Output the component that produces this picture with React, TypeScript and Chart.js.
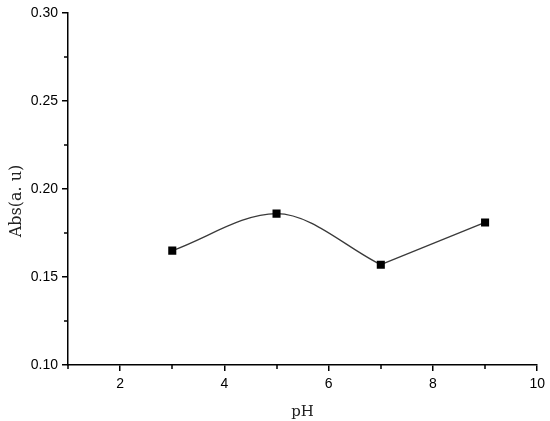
import React, { useEffect, useRef } from "react";
import { Chart, registerables } from "chart.js";

Chart.register(...registerables);

const phValues = [3, 5, 7, 9];
const absValues = [0.165, 0.186, 0.157, 0.181];
const xMajorTicks = [2, 4, 6, 8, 10];
const xMinorTicks = [1, 3, 5, 7, 9];
const yMajorTicks = [0.1, 0.15, 0.2, 0.25, 0.3];
const yMinorTicks = [0.125, 0.175, 0.225, 0.275];
const xTitle = "pH";
const yTitle = "Abs(a. u)";

const minorTickPlugin = {
  id: "minorTicks",
  afterDraw(chart: any) {
    const ctx = chart.ctx;
    const xs = chart.scales.x;
    const ys = chart.scales.y;
    const area = chart.chartArea;
    ctx.save();
    ctx.strokeStyle = "#000";
    ctx.lineWidth = 1.5;
    ctx.beginPath();
    xMinorTicks.forEach((v) => {
      const px = Math.round(xs.getPixelForValue(v));
      ctx.moveTo(px, area.bottom);
      ctx.lineTo(px, area.bottom + 4);
    });
    yMinorTicks.forEach((v) => {
      const py = Math.round(ys.getPixelForValue(v));
      ctx.moveTo(area.left, py);
      ctx.lineTo(area.left - 4, py);
    });
    ctx.stroke();
    // y-axis title
    ctx.translate(17, (area.top + area.bottom) / 2 + 12);
    ctx.rotate(-Math.PI / 2);
    ctx.fillStyle = "#222";
    ctx.font = "16px 'DejaVu Serif', serif";
    ctx.textAlign = "center";
    ctx.textBaseline = "middle";
    ctx.fillText(yTitle, 0, 0);
    ctx.restore();
  },
};

export default function App() {
  const ref = useRef<HTMLCanvasElement>(null);
  useEffect(() => {
    document.body.style.margin = "0";
    const pts = phValues.map((x, i) => ({ x, y: absValues[i] }));
    const chart = new Chart(ref.current!, {
      type: "scatter",
      data: {
        datasets: [
          {
            data: pts.slice(0, 3),
            showLine: true,
            cubicInterpolationMode: "monotone",
            borderColor: "#3a3a3a",
            borderWidth: 1.3,
            pointRadius: 0,
            order: 2,
          },
          {
            data: pts.slice(2, 4),
            showLine: true,
            tension: 0,
            borderColor: "#3a3a3a",
            borderWidth: 1.3,
            pointRadius: 0,
            order: 2,
          },
          {
            data: pts,
            showLine: false,
            pointStyle: "rect",
            pointRadius: 5.7,
            pointBackgroundColor: "#000",
            pointBorderColor: "#000",
            pointBorderWidth: 0,
            order: 1,
          },
        ],
      },
      options: {
        responsive: false,
        animation: false,
        devicePixelRatio: 1,
        layout: { padding: { top: 13, right: 10, left: 0, bottom: 0 } },
        plugins: { legend: { display: false }, tooltip: { enabled: false } },
        scales: {
          x: {
            type: "linear",
            min: 1,
            max: 10,
            afterBuildTicks: (s: any) => {
              s.ticks = xMajorTicks.map((v) => ({ value: v }));
            },
            afterFit: (s: any) => {
              s.height = 56;
            },
            border: { display: true, color: "#000", width: 1.5 },
            grid: { drawOnChartArea: false, drawTicks: true, tickLength: 6, color: "#000", lineWidth: 1.5 },
            ticks: {
              padding: 5,
              color: "#000",
              font: { family: "'Liberation Sans', Arial", size: 14 },
              callback: (v: any) => String(v),
              maxRotation: 0,
            },
            title: {
              display: true,
              text: xTitle,
              color: "#222",
              font: { family: "'DejaVu Serif', serif", size: 15 },
              padding: { top: 0, bottom: 0 },
            },
          },
          y: {
            type: "linear",
            min: 0.1,
            max: 0.3,
            afterBuildTicks: (s: any) => {
              s.ticks = yMajorTicks.map((v) => ({ value: v }));
            },
            afterFit: (s: any) => {
              s.width = 68;
            },
            border: { display: true, color: "#000", width: 1.5 },
            grid: { drawOnChartArea: false, drawTicks: true, tickLength: 6, color: "#000", lineWidth: 1.5 },
            ticks: {
              padding: 4,
              color: "#000",
              font: { family: "'Liberation Sans', Arial", size: 14 },
              callback: (v: any) => Number(v).toFixed(2),
            },
            title: { display: false },
          },
        },
      },
      plugins: [minorTickPlugin],
    });
    return () => chart.destroy();
  }, []);
  return <canvas ref={ref} width={550} height={421} style={{ display: "block" }} />;
}
